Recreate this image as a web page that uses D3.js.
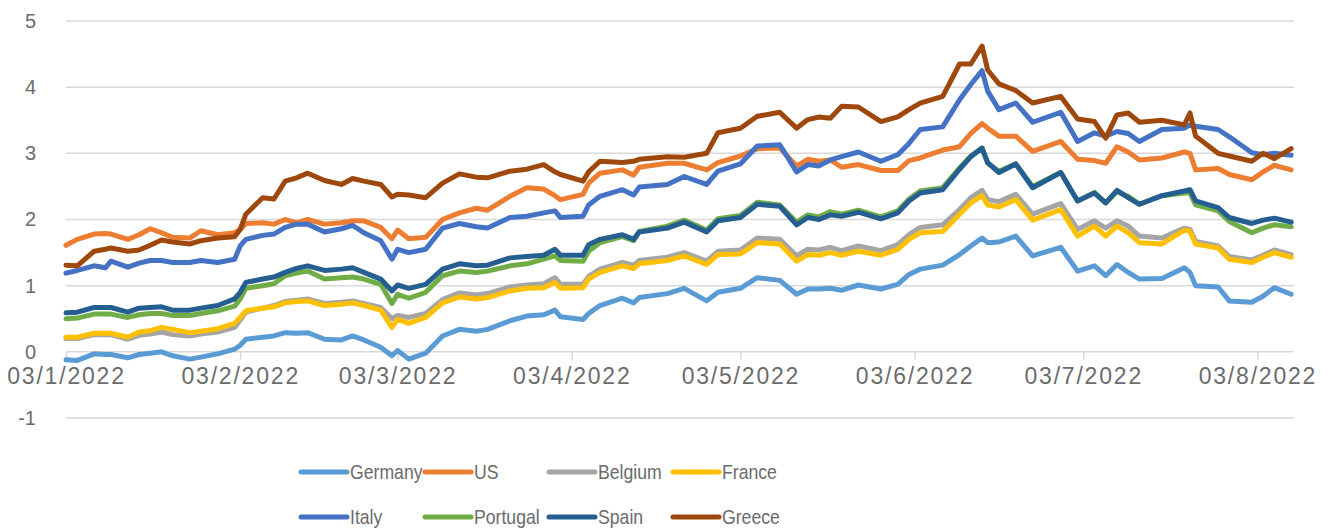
<!DOCTYPE html>
<html>
<head>
<meta charset="utf-8">
<title>10-year government bond yields, 2022</title>
<script src="https://d3js.org/d3.v7.min.js"></script>
<style>
    body { margin: 0; background: #fff; }
    text { font-family: "Liberation Sans", Arial, sans-serif; fill: #6b6b6b; }
    .grid line { stroke: #d9d9d9; stroke-width: 1.5px; }
    .axis.x line { stroke: #d9d9d9; stroke-width: 1.5px; }
    .axis.x path { display: none; }
    .axis.x text { font-size: 23px; letter-spacing: 1.8px; }
    .axis.y text { font-size: 20px; }
    path.series { fill: none; stroke-width: 5px; stroke-linejoin: round; stroke-linecap: round; }
    .legend text { font-size: 21px; }
</style>
</head>
<body>
<script>
// observation dates
var dates = [
    "2022-01-03","2022-01-05","2022-01-08","2022-01-10","2022-01-11","2022-01-14","2022-01-16","2022-01-18","2022-01-20","2022-01-22","2022-01-25","2022-01-27","2022-01-30",
    "2022-02-02","2022-02-03","2022-02-04","2022-02-07","2022-02-09","2022-02-11","2022-02-13","2022-02-15","2022-02-18","2022-02-21","2022-02-23","2022-02-25","2022-02-28",
    "2022-03-02","2022-03-03","2022-03-05","2022-03-08","2022-03-11","2022-03-14","2022-03-17","2022-03-19","2022-03-23","2022-03-26","2022-03-29","2022-03-31",
    "2022-04-01","2022-04-05","2022-04-06","2022-04-08","2022-04-12","2022-04-14","2022-04-15","2022-04-20","2022-04-23","2022-04-27","2022-04-29",
    "2022-05-03","2022-05-06","2022-05-10","2022-05-13","2022-05-15","2022-05-17","2022-05-19","2022-05-21","2022-05-24","2022-05-28","2022-05-31",
    "2022-06-02","2022-06-04","2022-06-08","2022-06-11","2022-06-13","2022-06-15","2022-06-16","2022-06-18","2022-06-21","2022-06-24","2022-06-29",
    "2022-07-02","2022-07-05","2022-07-07","2022-07-09","2022-07-11","2022-07-13","2022-07-17","2022-07-21","2022-07-22","2022-07-23","2022-07-27","2022-07-29",
    "2022-08-02","2022-08-04","2022-08-06","2022-08-09"
];

var germany = [
    -0.12,-0.13,-0.03,-0.04,-0.04,-0.09,-0.04,-0.02,0.00,-0.06,-0.11,-0.08,-0.03,
    0.04,0.10,0.19,0.22,0.24,0.29,0.28,0.29,0.19,0.18,0.24,0.18,0.07,
    -0.06,0.02,-0.11,-0.02,0.24,0.34,0.31,0.34,0.47,0.54,0.56,0.63,
    0.53,0.49,0.58,0.70,0.81,0.74,0.82,0.88,0.96,0.77,0.90,
    0.96,1.12,1.08,0.87,0.95,0.95,0.96,0.93,1.01,0.95,1.02,
    1.17,1.25,1.31,1.47,1.60,1.72,1.65,1.66,1.75,1.45,1.58,
    1.22,1.30,1.15,1.32,1.20,1.10,1.11,1.27,1.20,1.00,0.98,0.77,
    0.75,0.84,0.97,0.87
];
var us = [
    1.61,1.70,1.78,1.79,1.78,1.70,1.77,1.86,1.80,1.73,1.72,1.83,1.77,
    1.80,1.85,1.94,1.95,1.93,2.00,1.95,2.00,1.93,1.95,1.98,1.98,1.88,
    1.71,1.84,1.71,1.73,2.00,2.10,2.17,2.14,2.35,2.48,2.46,2.36,
    2.30,2.38,2.55,2.70,2.75,2.67,2.79,2.85,2.85,2.75,2.86,
    2.96,3.07,3.08,2.81,2.91,2.88,2.90,2.79,2.83,2.74,2.74,
    2.89,2.93,3.05,3.10,3.30,3.45,3.38,3.26,3.26,3.03,3.18,
    2.91,2.89,2.85,3.10,3.02,2.90,2.93,3.02,3.00,2.75,2.77,2.68,
    2.60,2.72,2.82,2.75
];
var belgium = [
    0.20,0.20,0.26,0.26,0.26,0.19,0.25,0.27,0.30,0.26,0.24,0.27,0.30,
    0.37,0.48,0.60,0.66,0.70,0.76,0.78,0.80,0.73,0.75,0.77,0.73,0.67,
    0.50,0.55,0.52,0.58,0.79,0.89,0.86,0.88,0.98,1.01,1.03,1.12,
    1.02,1.02,1.14,1.25,1.35,1.31,1.38,1.43,1.50,1.37,1.52,
    1.54,1.72,1.70,1.45,1.55,1.54,1.58,1.53,1.60,1.53,1.62,
    1.77,1.88,1.92,2.15,2.33,2.44,2.30,2.27,2.38,2.08,2.24,
    1.85,1.98,1.87,1.98,1.90,1.75,1.72,1.87,1.85,1.67,1.60,1.44,
    1.39,1.46,1.54,1.47
];
var france = [
    0.22,0.22,0.28,0.28,0.28,0.22,0.30,0.32,0.37,0.34,0.29,0.31,0.35,
    0.43,0.52,0.62,0.66,0.68,0.74,0.76,0.77,0.70,0.72,0.74,0.70,0.63,
    0.37,0.49,0.43,0.52,0.74,0.83,0.80,0.82,0.92,0.96,0.97,1.05,
    0.96,0.97,1.10,1.20,1.30,1.26,1.33,1.38,1.45,1.32,1.47,
    1.48,1.65,1.63,1.37,1.47,1.46,1.50,1.46,1.52,1.46,1.55,
    1.70,1.80,1.82,2.08,2.25,2.36,2.22,2.19,2.30,1.99,2.15,
    1.75,1.90,1.75,1.90,1.80,1.65,1.63,1.84,1.82,1.63,1.57,1.40,
    1.35,1.43,1.50,1.43
];
var italy = [
    1.19,1.23,1.30,1.27,1.37,1.28,1.34,1.38,1.38,1.35,1.35,1.38,1.35,
    1.40,1.60,1.70,1.76,1.78,1.88,1.93,1.93,1.81,1.86,1.91,1.80,1.68,
    1.40,1.55,1.50,1.55,1.87,1.94,1.89,1.87,2.03,2.05,2.10,2.13,
    2.03,2.05,2.22,2.35,2.45,2.37,2.49,2.53,2.65,2.53,2.73,
    2.84,3.11,3.13,2.72,2.83,2.81,2.90,2.95,3.02,2.88,2.98,
    3.15,3.36,3.40,3.81,4.04,4.25,3.94,3.66,3.76,3.47,3.62,
    3.18,3.31,3.26,3.33,3.30,3.18,3.36,3.38,3.43,3.41,3.36,3.25,
    3.01,2.98,3.00,2.97
];
var portugal = [
    0.50,0.51,0.57,0.57,0.57,0.52,0.56,0.58,0.58,0.55,0.55,0.58,0.62,
    0.69,0.80,0.96,1.00,1.03,1.15,1.19,1.22,1.10,1.12,1.13,1.10,1.02,
    0.73,0.87,0.81,0.90,1.15,1.22,1.20,1.22,1.30,1.33,1.40,1.45,
    1.38,1.37,1.52,1.65,1.74,1.68,1.82,1.90,1.99,1.84,2.01,
    2.06,2.26,2.22,1.96,2.07,2.04,2.12,2.08,2.14,2.04,2.13,
    2.31,2.43,2.48,2.78,2.96,3.08,2.85,2.73,2.84,2.50,2.71,
    2.28,2.41,2.25,2.42,2.35,2.23,2.36,2.40,2.40,2.22,2.13,1.97,
    1.80,1.87,1.92,1.89
];
var spain = [
    0.59,0.60,0.67,0.67,0.67,0.60,0.66,0.67,0.68,0.63,0.63,0.66,0.70,
    0.80,0.90,1.05,1.10,1.13,1.20,1.26,1.30,1.23,1.25,1.27,1.20,1.10,
    0.92,1.01,0.96,1.02,1.25,1.33,1.30,1.31,1.42,1.44,1.46,1.55,
    1.46,1.46,1.62,1.70,1.77,1.70,1.81,1.87,1.96,1.81,1.98,
    2.03,2.23,2.20,1.92,2.03,2.00,2.07,2.05,2.11,2.01,2.10,
    2.28,2.40,2.45,2.76,2.95,3.08,2.86,2.71,2.84,2.48,2.71,
    2.28,2.40,2.25,2.44,2.33,2.23,2.36,2.43,2.45,2.28,2.18,2.03,
    1.94,1.99,2.02,1.96
];
var greece = [
    1.31,1.30,1.52,1.55,1.57,1.52,1.54,1.61,1.69,1.66,1.63,1.68,1.72,
    1.74,1.85,2.08,2.33,2.31,2.58,2.63,2.70,2.59,2.53,2.62,2.58,2.53,
    2.34,2.38,2.37,2.33,2.55,2.69,2.64,2.63,2.73,2.76,2.83,2.72,
    2.68,2.58,2.72,2.88,2.86,2.88,2.91,2.95,2.94,3.00,3.31,
    3.38,3.56,3.62,3.38,3.51,3.55,3.53,3.71,3.70,3.48,3.55,
    3.66,3.76,3.86,4.35,4.35,4.62,4.26,4.05,3.95,3.76,3.86,
    3.52,3.48,3.23,3.58,3.61,3.47,3.50,3.43,3.61,3.26,3.00,2.96,
    2.88,3.00,2.92,3.07
];

var seriesNames = ["Germany", "US", "Belgium", "France", "Italy", "Portugal", "Spain", "Greece"];
var seriesValues = [germany, us, belgium, france, italy, portugal, spain, greece];
var colors = ["#5b9bd5", "#ed7d31", "#a5a5a5", "#ffc000", "#4472c4", "#70ad47", "#255e91", "#9e480e"];

var tickDates = ["2022-01-03","2022-02-03","2022-03-03","2022-04-03","2022-05-03","2022-06-03","2022-07-03","2022-08-03"];
var tickLabels = ["03/1/2022","03/2/2022","03/3/2022","03/4/2022","03/5/2022","03/6/2022","03/7/2022","03/8/2022"];
var yTicks = [-1, 0, 1, 2, 3, 4, 5];

var W = 1339, H = 529;
var plot = { left: 66, right: 1294, top: 21, bottom: 418 };
var parseDate = d3.timeParse("%Y-%m-%d");
var dateObjs = dates.map(parseDate);

var x = d3.scaleTime()
    .domain([parseDate("2022-01-03"), parseDate("2022-08-09")])
    .range([plot.left, plot.left + 218 * 5.62]);
var y = d3.scaleLinear().domain([-1, 5]).range([plot.bottom, plot.top]);

var svg = d3.select("body").append("svg").attr("width", W).attr("height", H);

// horizontal gridlines
svg.append("g").attr("class", "grid")
    .selectAll("line").data(yTicks).enter().append("line")
    .attr("x1", plot.left).attr("x2", plot.right)
    .attr("y1", function (d) { return y(d); })
    .attr("y2", function (d) { return y(d); });

// y axis labels
var yAxis = d3.axisLeft(y).tickValues(yTicks).tickSize(0).tickPadding(0)
    .tickFormat(function (d) { return d < 0 ? "-" + Math.abs(d) : d; });
svg.append("g").attr("class", "axis y")
    .attr("transform", "translate(" + 36 + ",0)")
    .call(yAxis)
    .call(function (g) { g.select(".domain").remove(); });

// x axis on the zero line
var xAxis = d3.axisBottom(x)
    .tickValues(tickDates.map(parseDate))
    .tickSize(8).tickPadding(8)
    .tickFormat(function (d, i) { return tickLabels[i]; });
svg.append("g").attr("class", "axis x")
    .attr("transform", "translate(0," + y(0) + ")")
    .call(xAxis);

// series lines
var line = d3.line()
    .x(function (d) { return x(d.date); })
    .y(function (d) { return y(d.value); });

seriesNames.forEach(function (name, i) {
    var rows = dateObjs.map(function (d, j) { return { date: d, value: seriesValues[i][j] }; });
    svg.append("path")
        .attr("class", "series")
        .attr("stroke", colors[i])
        .attr("d", line(rows));
});

// legend, two rows of four; text squeezed to a condensed look
var legend = svg.append("g").attr("class", "legend");
seriesNames.forEach(function (name, i) {
    var lx = 301 + (i % 4) * 124;
    var ly = 472 + Math.floor(i / 4) * 45;
    legend.append("line")
        .attr("x1", lx).attr("x2", lx + 46)
        .attr("y1", ly).attr("y2", ly)
        .attr("stroke", colors[i]).attr("stroke-width", 5).attr("stroke-linecap", "round");
    var t = legend.append("text")
        .attr("x", lx + 49).attr("y", ly)
        .attr("dy", "0.35em")
        .text(name);
    var w = t.node().getComputedTextLength();
    t.attr("textLength", w * 0.84).attr("lengthAdjust", "spacingAndGlyphs");
});
</script>
</body>
</html>
